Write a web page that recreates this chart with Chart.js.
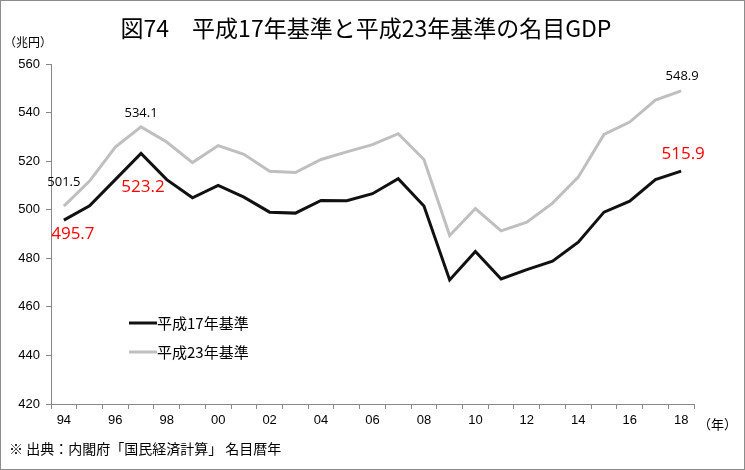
<!DOCTYPE html>
<html>
<head>
<meta charset="utf-8">
<script src="https://cdn.jsdelivr.net/npm/chart.js@4"></script>
<style>
  body { margin: 0; background: #fff; }
  canvas { display: block; }
</style>
</head>
<body>
<canvas id="chart" width="745" height="470"></canvas>
<script>
// years 1994 - 2018
const years = ['94', '95', '96', '97', '98', '99', '00', '01', '02', '03', '04', '05', '06',
               '07', '08', '09', '10', '11', '12', '13', '14', '15', '16', '17', '18'];
const oldBase = [495.7, 501.6, 512.4, 523.2, 512.4, 504.9, 510.0, 505.2, 499.0, 498.6, 503.8, 503.7, 506.6,
                 512.8, 501.5, 471.1, 482.8, 471.5, 475.3, 478.8, 486.6, 499.0, 503.5, 512.4, 515.9];
const newBase = [501.5, 511.8, 525.8, 534.1, 527.9, 519.4, 526.4, 522.8, 515.8, 515.3, 520.7, 523.8, 526.8,
                 531.3, 520.7, 489.4, 500.5, 491.3, 494.9, 502.7, 513.4, 531.0, 536.1, 545.1, 548.9];
const seriesNames = ['平成17年基準', '平成23年基準'];

const jp = '"Noto Sans CJK JP", sans-serif';
const num = '"Liberation Sans", Arial, sans-serif';

// point labels: [dataset, index, dx, dy, colour, size]
const pointLabels = [
    [1, 0, 0, -24, '#000', 13],
    [1, 3, 0, -14, '#000', 13],
    [1, 24, 1, -15, '#000', 13],
    [0, 0, 9, 14, '#ff0000', 17],
    [0, 3, 2, 34, '#ff0000', 17],
    [0, 24, 2, -17, '#ff0000', 17],
];

const decor = {
    id: 'decor',
    afterDraw(chart) {
        const ctx = chart.ctx;
        ctx.save();
        // frame
        ctx.strokeStyle = '#8c8c8c';
        ctx.lineWidth = 1;
        ctx.strokeRect(0.5, 0.5, 744, 469);

        ctx.fillStyle = '#000';
        ctx.textBaseline = 'middle';
        ctx.textAlign = 'center';
        ctx.font = '23px ' + jp;
        ctx.fillText('図74　平成17年基準と平成23年基準の名目GDP', 366, 28);

        ctx.textAlign = 'left';
        ctx.font = '12px ' + jp;
        ctx.fillText('（兆円）', 4, 42);
        ctx.font = '13px ' + jp;
        ctx.fillText('（年）', 698, 424);
        ctx.font = '14px ' + jp;
        ctx.fillText('※ 出典：内閣府「国民経済計算」 名目暦年', 9, 449);

        // legend
        chart.data.datasets.forEach((ds, i) => {
            const y = 323 + i * 29;
            ctx.strokeStyle = ds.borderColor;
            ctx.lineWidth = 3;
            ctx.beginPath();
            ctx.moveTo(129, y);
            ctx.lineTo(157, y);
            ctx.stroke();
            ctx.fillStyle = '#000';
            ctx.font = '15px ' + jp;
            ctx.fillText(ds.label, 157, y);
        });

        // value labels
        const xs = chart.scales.x, ys = chart.scales.y;
        ctx.textAlign = 'center';
        pointLabels.forEach(([d, i, dx, dy, col, size]) => {
            const v = chart.data.datasets[d].data[i];
            ctx.fillStyle = col;
            ctx.font = size + 'px "Open Sans", sans-serif';
            ctx.fillText(v.toFixed(1), xs.getPixelForValue(i) + dx, ys.getPixelForValue(v) + dy);
        });
        ctx.restore();
    }
};

new Chart(document.getElementById('chart'), {
    type: 'line',
    data: {
        labels: years,
        datasets: [
            { label: seriesNames[0], data: oldBase, borderColor: '#111111', borderWidth: 3, pointRadius: 0, tension: 0 },
            { label: seriesNames[1], data: newBase, borderColor: '#bfbfbf', borderWidth: 3, pointRadius: 0, tension: 0 },
        ],
    },
    options: {
        responsive: false,
        animation: false,
        layout: { padding: { left: 0, top: 64, right: 51, bottom: 42 } },
        plugins: { legend: { display: false }, tooltip: { enabled: false } },
        scales: {
            x: {
                offset: true,
                grid: { offset: true, drawOnChartArea: false, tickLength: 5, color: '#888' },
                border: { color: '#888' },
                ticks: {
                    autoSkip: false, maxRotation: 0, color: '#000', padding: 4,
                    font: { family: num, size: 13 },
                    callback: (v, i) => (i % 2 === 0 ? years[i] : ''),
                },
                afterFit: (s) => { s.height = 24; },
            },
            y: {
                min: 420, max: 560,
                grid: { drawOnChartArea: false, tickLength: 5, color: '#888' },
                border: { color: '#888' },
                ticks: { stepSize: 20, color: '#000', padding: 6, font: { family: num, size: 13 } },
                afterFit: (s) => { s.width = 51; },
            },
        },
    },
    plugins: [decor],
});
</script>
</body>
</html>
